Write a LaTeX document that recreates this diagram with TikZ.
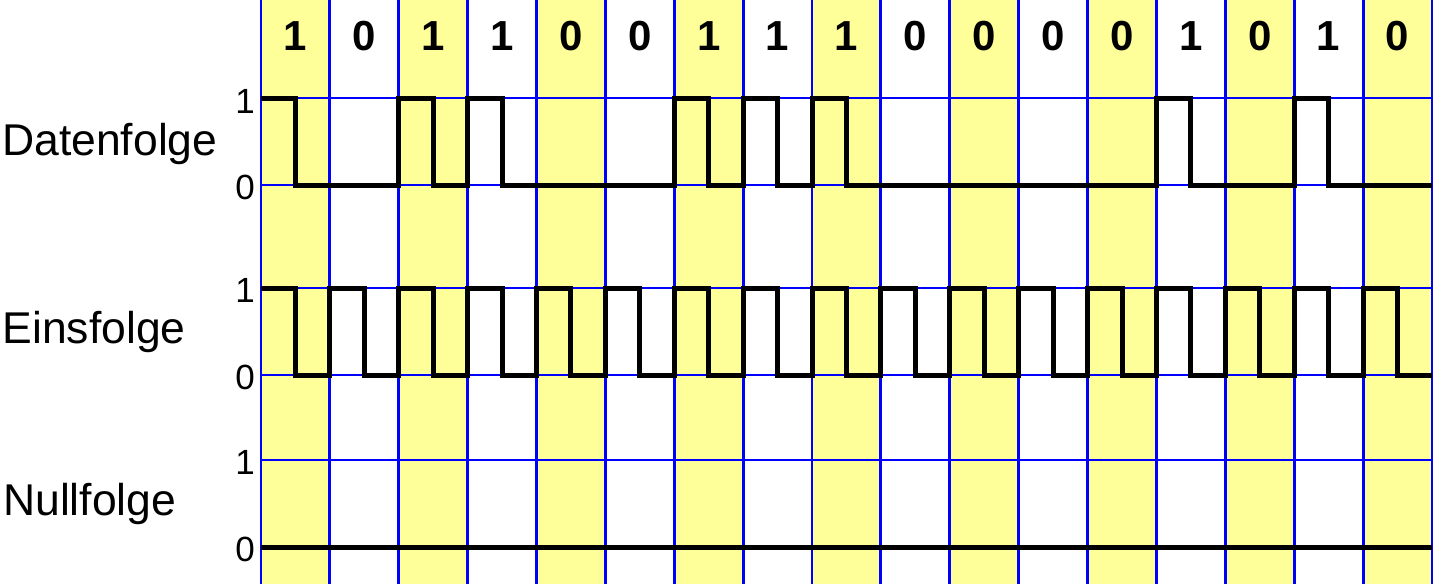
\documentclass[tikz,border=0pt]{standalone}
\usepackage{fontspec}
\setmainfont{Liberation Sans}
\definecolor{hl}{RGB}{255,255,153}
\definecolor{gridblue}{RGB}{0,0,255}
\begin{document}
\begin{tikzpicture}[x=68.88pt,y=-1pt,
  gridline/.style={gridblue,line width=2.9pt},
  sig/.style={black,line width=5pt,line join=miter},
  bitlbl/.style={font=\fontsize{42}{42}\selectfont\bfseries,anchor=base,inner sep=0pt},
  lvl/.style={font=\fontsize{35}{35}\selectfont,anchor=base east,inner sep=0pt},
  rowlbl/.style={font=\fontsize{44.5}{44.5}\selectfont,anchor=base west,inner sep=0pt}]
\path[use as bounding box] (-261pt,0pt) rectangle (1175pt,-584pt);
% yellow columns
\foreach \i in {0,2,...,16} \fill[hl] (\i,0) rectangle (\i+1,584);
% grid
\foreach \y in {98,185,288,375,460,547} \draw[gridline] (0,\y) -- (17,\y);
\foreach \i in {0,...,17} \draw[gridline] (\i,0) -- (\i,584);
% bit labels
\foreach \b [count=\i from 0] in {1,0,1,1,0,0,1,1,1,0,0,0,0,1,0,1,0}
  \node[bitlbl] (bit\i) at (\i+0.5,50) {\b};
% level labels
\node[lvl] (d1) at ([xshift=-6pt]0,113) {1};
\node[lvl] (d0) at ([xshift=-6pt]0,199) {0};
\node[lvl] (e1) at ([xshift=-6pt]0,302) {1};
\node[lvl] (e0) at ([xshift=-6pt]0,389) {0};
\node[lvl] (n1) at ([xshift=-6pt]0,474) {1};
\node[lvl] (n0) at ([xshift=-6pt]0,561) {0};
% row labels
\node[rowlbl] (daten) at ([xshift=2pt]-3.7892,155) {Datenfolge};
\node[rowlbl] (eins) at ([xshift=2.5pt]-3.7892,343) {Einsfolge};
\node[rowlbl] (null) at ([xshift=3pt]-3.7892,515) {Nullfolge};
% Datenfolge signal
\draw[sig] (0,98) -- (0.5,98) -- (0.5,185) -- (2,185) -- (2,98) -- (2.5,98) -- (2.5,185)
  -- (3,185) -- (3,98) -- (3.5,98) -- (3.5,185) -- (6,185) -- (6,98) -- (6.5,98) -- (6.5,185)
  -- (7,185) -- (7,98) -- (7.5,98) -- (7.5,185) -- (8,185) -- (8,98) -- (8.5,98) -- (8.5,185)
  -- (13,185) -- (13,98) -- (13.5,98) -- (13.5,185) -- (15,185) -- (15,98) -- (15.5,98)
  -- (15.5,185) -- (17,185);
% Einsfolge signal
\draw[sig] (0,288) -- (0.5,288) -- (0.5,375)
  \foreach \i in {1,...,16} { -- (\i,375) -- (\i,288) -- ({\i+0.5},288) -- ({\i+0.5},375) }
  -- (17,375);
% Nullfolge signal
\draw[sig] (0,547) -- (17,547);
\end{tikzpicture}
\end{document}
